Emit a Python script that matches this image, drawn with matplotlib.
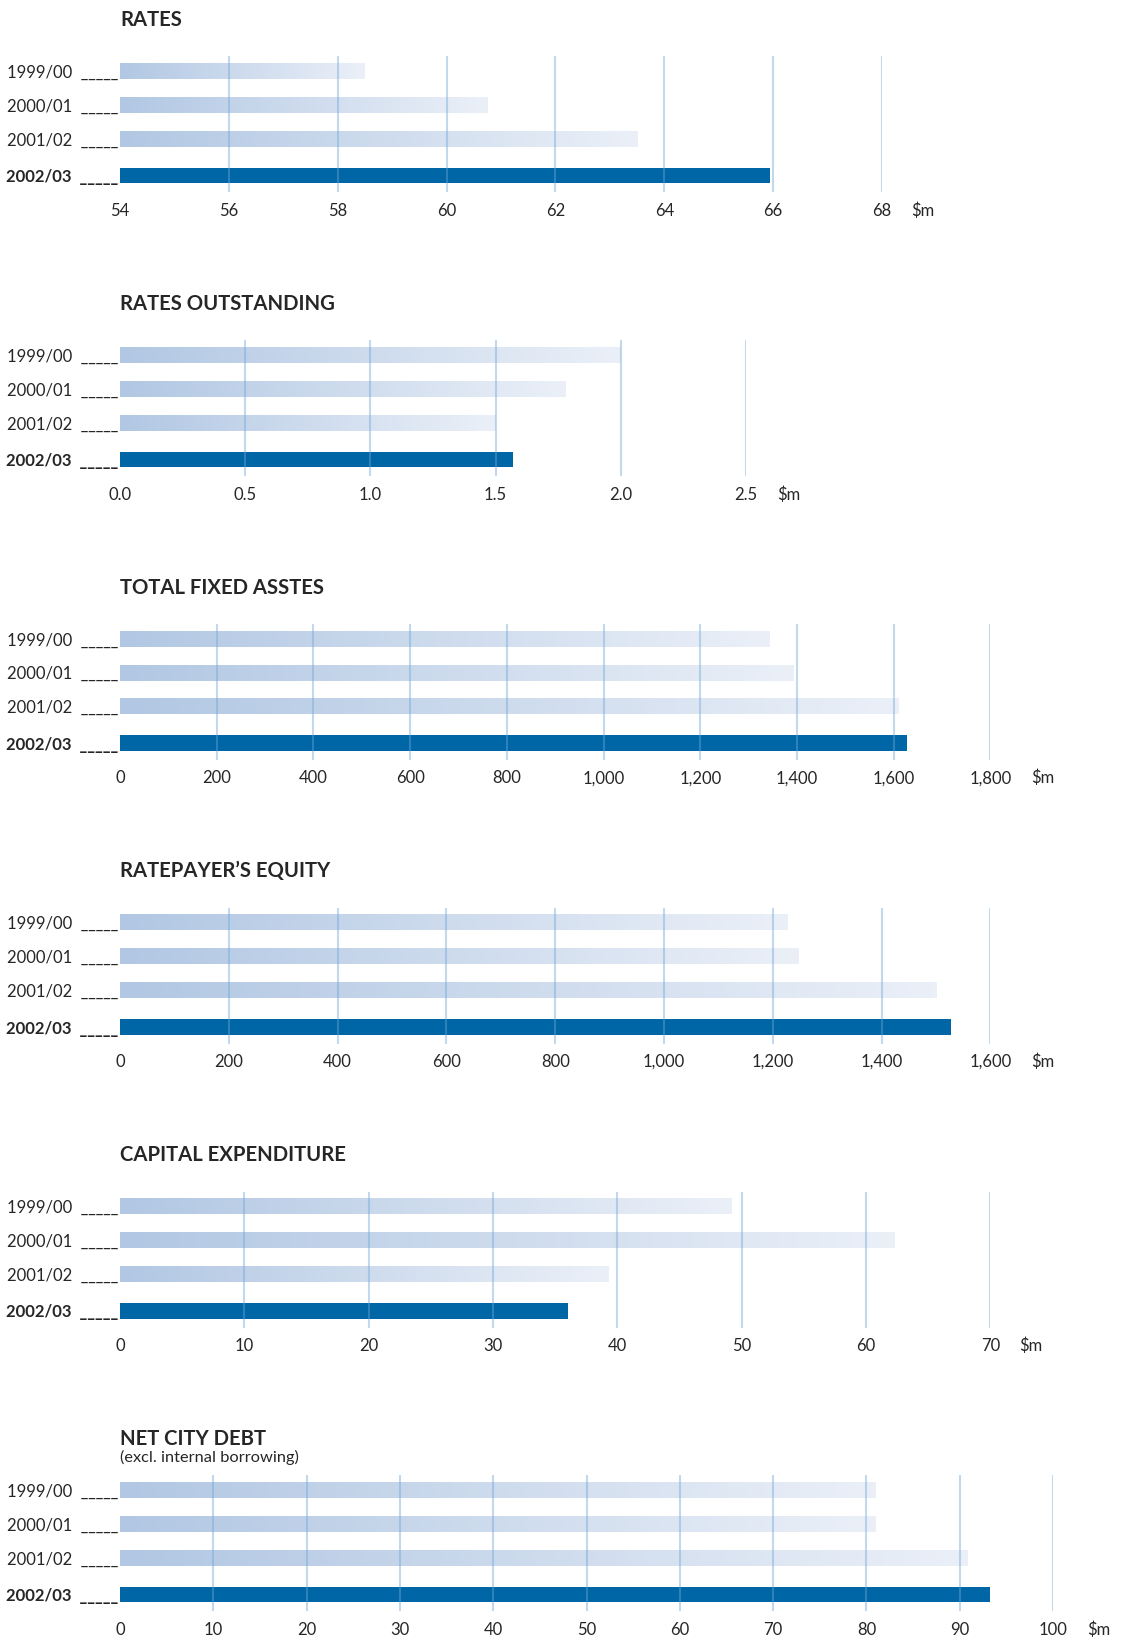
import numpy as np
import matplotlib
matplotlib.use("Agg")
import matplotlib.pyplot as plt
from matplotlib.colors import LinearSegmentedColormap

plt.rcParams['font.family'] = ['Lato', 'DejaVu Sans']

# ---------------- data ----------------
categories = ['1999/00', '2000/01', '2001/02', '2002/03']

titles = ['RATES', 'RATES OUTSTANDING', 'TOTAL FIXED ASSTES',
          "RATEPAYER\u2019S EQUITY", 'CAPITAL EXPENDITURE', 'NET CITY DEBT']
subtitle_last = '(excl. internal borrowing)'

rates = [58.5, 60.75, 63.5, 65.95]
rates_outstanding = [2.0, 1.78, 1.5, 1.57]
total_fixed_assets = [1343, 1392, 1610, 1628]
ratepayers_equity = [1227, 1247, 1501, 1527]
capital_expenditure = [49.2, 62.3, 39.3, 36.0]
net_city_debt = [81.0, 81.0, 90.8, 93.2]

rates_ticks = [54, 56, 58, 60, 62, 64, 66, 68]
rates_ticklabels = ['54', '56', '58', '60', '62', '64', '66', '68']
ro_ticks = [0.0, 0.5, 1.0, 1.5, 2.0, 2.5]
ro_ticklabels = ['0.0', '0.5', '1.0', '1.5', '2.0', '2.5']
tfa_ticks = [0, 200, 400, 600, 800, 1000, 1200, 1400, 1600, 1800]
tfa_ticklabels = ['0', '200', '400', '600', '800', '1,000', '1,200', '1,400', '1,600', '1,800']
rpe_ticks = [0, 200, 400, 600, 800, 1000, 1200, 1400, 1600]
rpe_ticklabels = ['0', '200', '400', '600', '800', '1,000', '1,200', '1,400', '1,600']
capex_ticks = [0, 10, 20, 30, 40, 50, 60, 70]
capex_ticklabels = ['0', '10', '20', '30', '40', '50', '60', '70']
ncd_ticks = [0, 10, 20, 30, 40, 50, 60, 70, 80, 90, 100]
ncd_ticklabels = ['0', '10', '20', '30', '40', '50', '60', '70', '80', '90', '100']
unit_label = '$m'

panels = [
    (rates, rates_ticks, rates_ticklabels),
    (rates_outstanding, ro_ticks, ro_ticklabels),
    (total_fixed_assets, tfa_ticks, tfa_ticklabels),
    (ratepayers_equity, rpe_ticks, rpe_ticklabels),
    (capital_expenditure, capex_ticks, capex_ticklabels),
    (net_city_debt, ncd_ticks, ncd_ticklabels),
]

# ---------------- layout / style ----------------
W, H = 1121, 1639
fig = plt.figure(figsize=(W / 100, H / 100), dpi=100)

text_col = '#262626'
dark_blue = '#0066a6'
grid_col = '#6fa6d6'
grad_cmap = LinearSegmentedColormap.from_list('g', ['#b1c7e3', '#ebf0f8'])

panel_step = 283.8
ax_top0 = 56.3
ax_h = 136.0
ax_left = 120
right_px = [882, 746, 990.5, 990.5, 990.5, 1053]
title_base0 = 26.0

ypos = np.array([0, 1, 2, 3.08])
bar_h = 0.46
ylim = (3.08 + 0.49, -0.44)

for k, (vals, ticks, tlabels) in enumerate(panels):
    top = ax_top0 + k * panel_step
    left = ax_left / W
    width = (right_px[k] - ax_left) / W
    bottom = 1 - (top + ax_h) / H
    ax = fig.add_axes([left, bottom, width, ax_h / H])
    lo, hi = ticks[0], ticks[-1]

    # gradient bars for earlier years
    grad = np.linspace(0, 1, 256).reshape(1, -1)
    for i in range(3):
        ax.imshow(grad, cmap=grad_cmap, aspect='auto', interpolation='bilinear',
                  extent=[lo, vals[i], ypos[i] + bar_h / 2, ypos[i] - bar_h / 2],
                  zorder=1)
    # current year bar
    ax.barh(ypos[3], vals[3] - lo, left=lo, height=bar_h, color=dark_blue,
            zorder=1.5, linewidth=0)

    # gridlines (except the first tick)
    ax.vlines(ticks[1:], 0, 1, transform=ax.get_xaxis_transform(),
              colors=grid_col, linewidth=1.5, alpha=0.42, zorder=3)

    ax.set_xlim(lo, hi)
    ax.set_ylim(*ylim)
    ax.set_xticks(ticks)
    ax.set_xticklabels(tlabels)
    ax.set_yticks(ypos)
    ax.set_yticklabels([c + '  _____' for c in categories])
    ax.tick_params(axis='x', length=0, pad=7.5, labelsize=12, labelcolor=text_col)
    ax.tick_params(axis='y', length=0, pad=1, labelsize=12, labelcolor=text_col)
    ax.get_yticklabels()[-1].set_fontweight('bold')
    for s in ax.spines.values():
        s.set_visible(False)
    ax.set_facecolor('none')

    # title
    tb = title_base0 + k * panel_step
    fig.text(120 / W, 1 - tb / H, titles[k], fontsize=14.6, fontweight='bold',
             color=text_col, va='baseline', ha='left')
    if k == len(panels) - 1:
        fig.text(120 / W, 1 - (tb + 17) / H, subtitle_last, fontsize=11.8,
                 color=text_col, va='baseline', ha='left')

    lbl = ax.get_xticklabels()[-1]
    ax.annotate(unit_label, xy=(1, 0), xycoords=lbl, xytext=(14, 0),
                textcoords='offset points', ha='left', va='bottom',
                fontsize=12, color=text_col, annotation_clip=False)

fig.savefig('out.png', dpi=100, facecolor='white')
